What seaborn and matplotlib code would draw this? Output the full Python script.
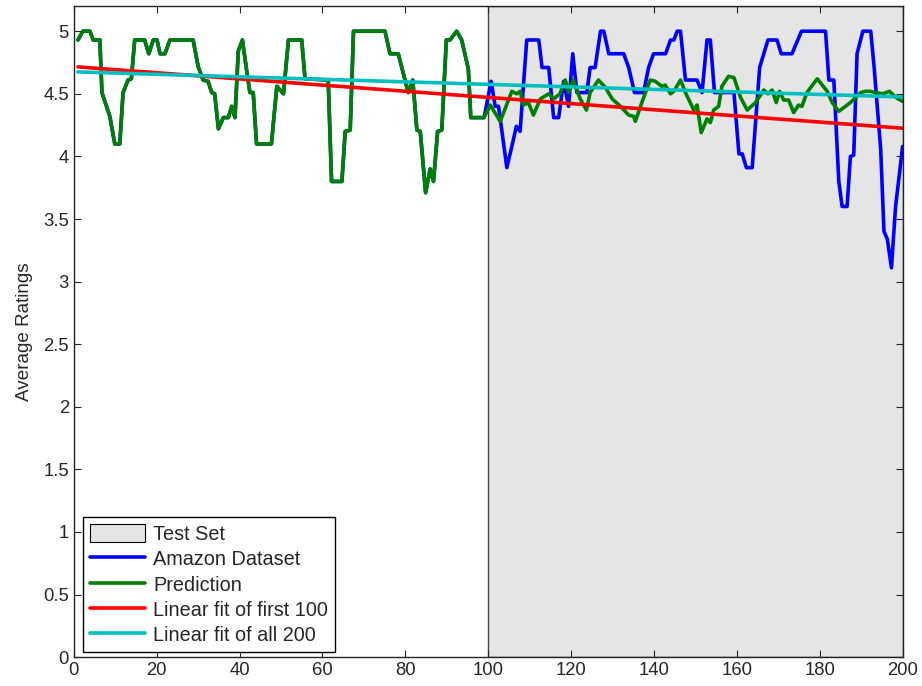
import matplotlib
matplotlib.use("Agg")
import matplotlib.pyplot as plt
import seaborn as sns
import numpy as np
from matplotlib.patches import Patch
from matplotlib.lines import Line2D
from matplotlib.ticker import FuncFormatter, MultipleLocator

# training part: dataset and prediction coincide
train_x = [1, 2.2, 3.9, 4.7, 6.3, 6.8, 8.7, 9.9, 11.1, 11.9,
           13.1, 13.9, 14.7, 17.1, 18.1, 19.2, 20.1, 20.8, 22, 23.2,
           28.8, 30, 31.2, 32.4, 33.3, 34, 34.9, 36.1, 37.3, 38.1,
           38.9, 39.7, 40.7, 41.7, 42.5, 43.3, 44.1, 47.7, 49, 50.6,
           51.8, 55, 55.8, 61.4, 62.2, 64.7, 65.5, 66.7, 67.5, 75.1,
           76.3, 78.3, 80.7, 81.8, 82.8, 83.6, 84.9, 86, 86.8, 87.8,
           88.8, 89.9, 90.8, 92.4, 93.6, 95.2, 95.8, 99]
train_y = [4.93, 5.0, 5.0, 4.93, 4.93, 4.51, 4.32, 4.1, 4.1, 4.51,
           4.61, 4.62, 4.93, 4.93, 4.82, 4.93, 4.93, 4.82, 4.82, 4.93,
           4.93, 4.72, 4.61, 4.6, 4.51, 4.5, 4.22, 4.31, 4.31, 4.4,
           4.31, 4.84, 4.93, 4.69, 4.51, 4.51, 4.1, 4.1, 4.56, 4.5,
           4.93, 4.93, 4.62, 4.61, 3.8, 3.8, 4.2, 4.21, 5.0, 5.0,
           4.82, 4.82, 4.51, 4.61, 4.21, 4.2, 3.71, 3.9, 3.8, 4.2,
           4.21, 4.93, 4.93, 5.0, 4.93, 4.7, 4.31, 4.31]

# test part: Amazon dataset
test_x = [100.7, 101.7, 102.5, 104.5, 105.7, 106.8, 107.7, 109.3, 112.2, 113,
          114.6, 115.8, 117, 118.2, 119.4, 120.4, 121.4, 123.8, 124.6, 125.8,
          127.1, 127.9, 129.1, 132.7, 133.9, 135.3, 137.5, 138.7, 139.9, 142.8,
          144, 144.8, 145.6, 146.4, 147.6, 150.4, 151.6, 152.8, 153.6, 154.6,
          159.3, 160.5, 161.3, 162.3, 163.7, 165.5, 167.5, 169.7, 170.7, 173.3,
          175.6, 181.4, 182.2, 183.4, 184.6, 185.4, 186.6, 187.4, 188.2, 189,
          190.4, 192.3, 193.1, 194.7, 195.5, 196.3, 197.3, 198.3, 200]
test_y = [4.6, 4.4, 4.4, 3.91, 4.08, 4.24, 4.2, 4.93, 4.93, 4.71,
          4.71, 4.31, 4.31, 4.6, 4.4, 4.82, 4.51, 4.51, 4.71, 4.71,
          5.0, 5.0, 4.82, 4.82, 4.71, 4.51, 4.51, 4.71, 4.82, 4.82,
          4.93, 4.93, 5.0, 5.0, 4.61, 4.61, 4.51, 4.93, 4.93, 4.51,
          4.51, 4.02, 4.02, 3.91, 3.91, 4.71, 4.93, 4.93, 4.82, 4.82,
          5.0, 5.0, 4.61, 4.61, 3.8, 3.6, 3.6, 4.0, 4.01, 4.82,
          5.0, 5.0, 4.72, 4.06, 3.4, 3.34, 3.11, 3.6, 4.08]

# test part: prediction
pred_x = [100.5, 102.9, 105.7, 106.9, 107.7, 108.5, 109.7, 110.9, 112.6, 114.6,
          115.8, 117.3, 118.6, 119.4, 120.5, 122.2, 123.7, 124.6, 126.6, 128.3,
          129.9, 131.9, 133.9, 135.1, 135.5, 137.5, 139.1, 140.3, 141.9, 142.7,
          144, 144.8, 146.4, 147.6, 149.6, 150.4, 151.4, 152.8, 153.6, 154.4,
          155.6, 156.4, 158, 159.3, 160.9, 162.5, 164.5, 165.3, 166.5, 167.5,
          168.5, 169.5, 170.3, 171.3, 172.5, 173.7, 174.9, 175.7, 176.9, 179.4,
          180.6, 181.8, 183, 184.6, 186.2, 187.4, 189.9, 191, 192.2, 193.4,
          195.2, 196.8, 198.4, 200]
pred_y = [4.41, 4.28, 4.52, 4.5, 4.52, 4.41, 4.43, 4.33, 4.46, 4.5,
          4.46, 4.5, 4.61, 4.51, 4.61, 4.46, 4.37, 4.51, 4.61, 4.55,
          4.46, 4.4, 4.33, 4.32, 4.28, 4.47, 4.61, 4.6, 4.56, 4.57,
          4.5, 4.52, 4.61, 4.51, 4.37, 4.41, 4.19, 4.3, 4.27, 4.37,
          4.4, 4.56, 4.64, 4.63, 4.47, 4.37, 4.43, 4.47, 4.53, 4.5,
          4.53, 4.43, 4.52, 4.45, 4.45, 4.35, 4.41, 4.4, 4.51, 4.62,
          4.57, 4.52, 4.43, 4.36, 4.4, 4.43, 4.51, 4.52, 4.52, 4.51,
          4.5, 4.52, 4.47, 4.44]

# linear fits (end points)
fit_x = [1, 200]
fit100_y = [4.715, 4.225]
fit200_y = [4.675, 4.475]

sns.set_style("ticks")
plt.rcParams['font.family'] = ['Liberation Sans', 'DejaVu Sans']

fig = plt.figure(figsize=(9.22, 6.86), dpi=100)
ax = fig.add_axes([0.080, 0.042, 0.899, 0.949])

ax.axvspan(100, 200, facecolor='#e5e5e5', edgecolor='#444444', linewidth=1.0, zorder=0)

lw = 2.6
sns.lineplot(x=train_x + test_x, y=train_y + test_y, color='#0000ff', linewidth=lw,
             estimator=None, sort=False, ax=ax)
sns.lineplot(x=train_x + pred_x, y=train_y + pred_y, color='#008000', linewidth=lw,
             estimator=None, sort=False, ax=ax)
sns.lineplot(x=fit_x, y=fit100_y, color='#ff0000', linewidth=lw,
             estimator=None, sort=False, ax=ax)
sns.lineplot(x=fit_x, y=fit200_y, color='#00bfbf', linewidth=lw,
             estimator=None, sort=False, ax=ax)

ax.set_xlim(0, 200)
ax.set_ylim(0, 5.2)
ax.xaxis.set_major_locator(MultipleLocator(20))
ax.yaxis.set_major_locator(MultipleLocator(0.5))
ax.yaxis.set_major_formatter(FuncFormatter(lambda v, p: '%g' % v))
ax.tick_params(direction='in', top=True, right=True, labelsize=13.3, length=5, width=0.8)
ax.set_ylabel("Average Ratings", fontsize=13.6, labelpad=7)
for s in ax.spines.values():
    s.set_linewidth(1.0)
    s.set_color('#222222')

handles = [Patch(facecolor='#e5e5e5', edgecolor='k', linewidth=0.8),
           Line2D([], [], color='#0000ff', linewidth=lw),
           Line2D([], [], color='#008000', linewidth=lw),
           Line2D([], [], color='#ff0000', linewidth=lw),
           Line2D([], [], color='#00bfbf', linewidth=lw)]
labels = ["Test Set", "Amazon Dataset", "Prediction",
          "Linear fit of first 100", "Linear fit of all 200"]
leg = ax.legend(handles, labels, loc='lower left', bbox_to_anchor=(0.011, 0.008),
                borderaxespad=0, fontsize=14.3, frameon=True, fancybox=False,
                edgecolor='k', framealpha=1, handlelength=2.8, handleheight=1.0,
                labelspacing=0.28, handletextpad=0.4, borderpad=0.35)
leg.get_frame().set_linewidth(1.0)

plt.savefig("out.png", dpi=100)
